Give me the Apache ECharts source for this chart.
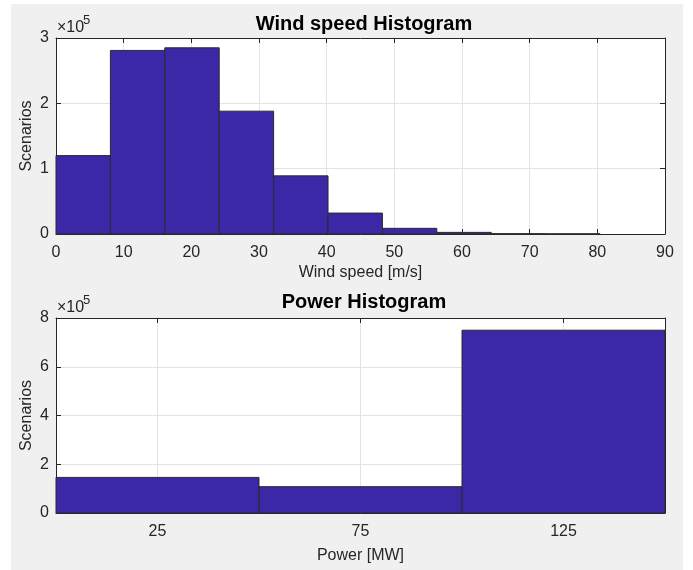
<!DOCTYPE html>
<html>
<head>
<meta charset="utf-8">
<script src="https://cdn.jsdelivr.net/npm/echarts@6/dist/echarts.min.js"></script>
<style>
html,body{margin:0;padding:0;background:#ffffff;}
#chart{width:693px;height:570px;}
</style>
</head>
<body>
<div id="chart"></div>
<script>
// Wind speed histogram bins (edges in m/s) and counts
const windEdges = [0, 8.04, 16.08, 24.12, 32.16, 40.2, 48.24, 56.28, 64.32, 72.36, 80.4];
const windCounts = [120000, 281000, 285000, 188000, 89000, 32000, 8700, 2500, 500, 200];
const windTicks = [0, 10, 20, 30, 40, 50, 60, 70, 80, 90];

// Power histogram bins (edges in MW) and counts
const powerEdges = [0, 50, 100, 150];
const powerCounts = [146000, 108000, 750000];
const powerTicks = [25, 75, 125];

const titles = ['Wind speed Histogram', 'Power Histogram'];
const xNames = ['Wind speed [m/s]', 'Power [MW]'];
const yName = 'Scenarios';

const FONT = '"Liberation Sans", Arial, sans-serif';
const TXT = '#262626';
const BAR = '#3b28a6';
const EDGE = '#2b2b2b';
const GRIDC = '#e3e3e3';

function binData(edges, counts) {
  return counts.map((c, i) => [edges[i], edges[i + 1], c]);
}

function renderBin(params, api) {
  const x0 = api.value(0), x1 = api.value(1), v = api.value(2);
  const p0 = api.coord([x0, 0]);
  const p1 = api.coord([x1, v]);
  return {
    type: 'rect',
    shape: { x: p0[0], y: p1[1], width: p1[0] - p0[0], height: p0[1] - p1[1] },
    style: { fill: BAR, stroke: EDGE, lineWidth: 1 }
  };
}

const chart = echarts.init(document.getElementById('chart'), null, { renderer: 'canvas' });

const grids = [
  { left: 56, width: 609, top: 38, height: 196 },
  { left: 56, width: 609, top: 318, height: 195 }
];

function mainX(gridIndex, opts) {
  return Object.assign({
    type: 'value', gridIndex: gridIndex, position: 'bottom',
    name: xNames[gridIndex], nameLocation: 'middle', nameMoveOverlap: false,
    nameTextStyle: { color: TXT, fontFamily: FONT, fontSize: 16 },
    axisLine: { show: true, onZero: false, lineStyle: { color: TXT, width: 1 } },
    axisTick: { show: true, inside: true, length: 5, lineStyle: { color: TXT } },
    axisLabel: { color: TXT, fontFamily: FONT, fontSize: 16, margin: 11 },
    splitLine: { show: true, lineStyle: { color: GRIDC, width: 1 } }
  }, opts);
}
function topX(gridIndex, opts) {
  return Object.assign({
    type: 'value', gridIndex: gridIndex, position: 'top',
    axisLine: { show: true, onZero: false, lineStyle: { color: TXT, width: 1 } },
    axisTick: { show: true, inside: true, length: 5, lineStyle: { color: TXT } },
    axisLabel: { show: false },
    splitLine: { show: false }
  }, opts);
}
function mainY(gridIndex, max, interval) {
  return {
    type: 'value', gridIndex: gridIndex, position: 'left', min: 0, max: max, interval: interval,
    name: yName, nameLocation: 'middle', nameGap: 21, nameMoveOverlap: false,
    nameTextStyle: { color: TXT, fontFamily: FONT, fontSize: 16 },
    axisLine: { show: true, onZero: false, lineStyle: { color: TXT, width: 1 } },
    axisTick: { show: true, inside: true, length: 5, lineStyle: { color: TXT } },
    axisLabel: { color: TXT, fontFamily: FONT, fontSize: 16, margin: 7,
      formatter: v => String(Math.round(v / 1e5)) },
    splitLine: { show: true, lineStyle: { color: GRIDC, width: 1 } }
  };
}
function rightY(gridIndex, max, interval) {
  return {
    type: 'value', gridIndex: gridIndex, position: 'right', min: 0, max: max, interval: interval,
    axisLine: { show: true, onZero: false, lineStyle: { color: TXT, width: 1 } },
    axisTick: { show: true, inside: true, length: 5, lineStyle: { color: TXT } },
    axisLabel: { show: false },
    splitLine: { show: false }
  };
}

const option = {
  backgroundColor: '#ffffff',
  animation: false,
  graphic: [
    { type: 'rect', z: -10, silent: true, shape: { x: 11, y: 4, width: 672, height: 566 }, style: { fill: '#f0f0f0' } },
    { type: 'text', left: 57, top: 20, style: { text: '×10', fill: TXT, font: '16px ' + FONT } },
    { type: 'text', left: 83, top: 14, style: { text: '5', fill: TXT, font: '13px ' + FONT } },
    { type: 'text', left: 57, top: 300, style: { text: '×10', fill: TXT, font: '16px ' + FONT } },
    { type: 'text', left: 83, top: 294, style: { text: '5', fill: TXT, font: '13px ' + FONT } }
  ],
  title: [
    { text: titles[0], left: 359, top: 9, textAlign: 'center',
      textStyle: { color: '#000', fontFamily: FONT, fontSize: 20, fontWeight: 'bold' } },
    { text: titles[1], left: 359, top: 287, textAlign: 'center',
      textStyle: { color: '#000', fontFamily: FONT, fontSize: 20, fontWeight: 'bold' } }
  ],
  grid: grids.map(g => Object.assign({ show: true, backgroundColor: '#ffffff', borderWidth: 0 }, g)),
  xAxis: [
    mainX(0, { min: windTicks[0], max: windTicks[windTicks.length - 1], interval: 10, nameGap: 31 }),
    mainX(1, { min: 0, max: 150, nameGap: 35,
      axisTick: { show: true, inside: true, length: 5, lineStyle: { color: TXT }, customValues: powerTicks },
      axisLabel: { color: TXT, fontFamily: FONT, fontSize: 16, margin: 11, customValues: powerTicks },
      splitLine: { show: true, lineStyle: { color: GRIDC, width: 1 }, customValues: powerTicks } }),
    topX(0, { min: windTicks[0], max: windTicks[windTicks.length - 1], interval: 10 }),
    topX(1, { min: 0, max: 150,
      axisTick: { show: true, inside: true, length: 5, lineStyle: { color: TXT }, customValues: powerTicks } })
  ],
  yAxis: [
    mainY(0, 300000, 100000),
    mainY(1, 800000, 200000),
    rightY(0, 300000, 100000),
    rightY(1, 800000, 200000)
  ],
  series: [
    { type: 'custom', name: 'Wind speed', xAxisIndex: 0, yAxisIndex: 0, renderItem: renderBin,
      encode: { x: [0, 1], y: 2 }, data: binData(windEdges, windCounts), z: 3 },
    { type: 'custom', name: 'Power', xAxisIndex: 1, yAxisIndex: 1, renderItem: renderBin,
      encode: { x: [0, 1], y: 2 }, data: binData(powerEdges, powerCounts), z: 3 }
  ]
};
chart.setOption(option);
</script>
</body>
</html>
